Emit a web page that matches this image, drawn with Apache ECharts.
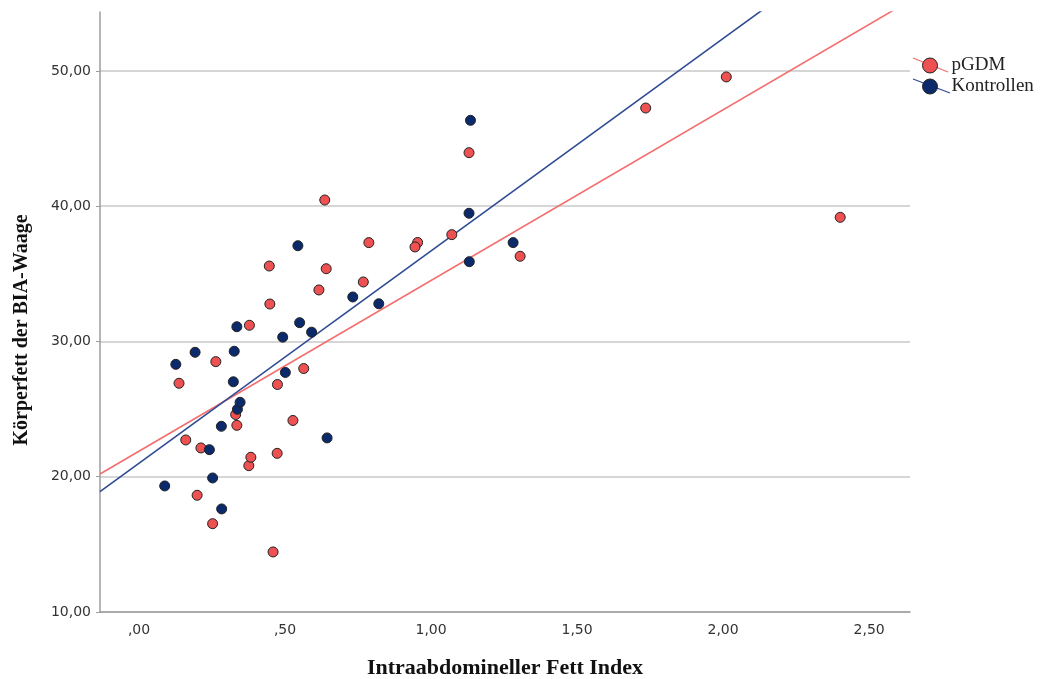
<!DOCTYPE html>
<html>
<head>
<meta charset="utf-8">
<script src="https://cdn.jsdelivr.net/npm/echarts@6/dist/echarts.min.js"></script>
<style>
  html, body { margin: 0; padding: 0; background: #ffffff; }
  #chart { width: 1040px; height: 679px; }
</style>
</head>
<body>
<div id="chart"></div>
<script>
// Intraabdominal fat index (x) vs. body fat from BIA scale (y), two groups
const pgdmX = [0.137, 0.160, 0.212, 0.199, 0.252, 0.263, 0.331, 0.335, 0.376, 0.383,
               0.378, 0.446, 0.448, 0.459, 0.474, 0.473, 0.527, 0.564, 0.616, 0.636,
               0.641, 0.768, 0.787, 0.954, 0.945, 1.071, 1.130, 1.305, 1.735, 2.011, 2.401];
const pgdmY = [26.91, 22.72, 22.13, 18.63, 16.53, 28.51, 24.60, 23.80, 20.82, 21.44,
               31.20, 35.58, 32.77, 14.44, 26.82, 21.73, 24.16, 28.00, 33.81, 40.46,
               35.38, 34.40, 37.31, 37.32, 36.99, 37.90, 43.96, 36.30, 47.26, 49.56, 39.18];

const kontrollenX = [0.088, 0.126, 0.192, 0.241, 0.252, 0.283, 0.282, 0.323, 0.326, 0.335,
                     0.337, 0.346, 0.492, 0.501, 0.544, 0.550, 0.591, 0.644, 0.732, 0.821,
                     1.130, 1.135, 1.131, 1.281];
const kontrollenY = [19.32, 28.31, 29.20, 22.00, 19.91, 17.62, 23.73, 27.02, 29.28, 31.09,
                     24.99, 25.50, 30.32, 27.71, 37.08, 31.39, 30.69, 22.87, 33.29, 32.79,
                     39.48, 46.35, 35.90, 37.31];

// Linear fit lines: [intercept, slope]
const pgdmFit = [21.89, 12.62];
const kontrollenFit = [21.00, 15.70];

// Axis ranges and tick labels
const xRange = [-0.1336, 2.64];
const yRange = [10, 54.36];
const xTickValues = [0, 0.5, 1.0, 1.5, 2.0, 2.5];
const xTickLabels = [',00', ',50', '1,00', '1,50', '2,00', '2,50'];
const yTickValues = [10, 20, 30, 40, 50];
const yTickLabels = ['10,00', '20,00', '30,00', '40,00', '50,00'];

const seriesNames = ['pGDM', 'Kontrollen'];
const xTitle = 'Intraabdomineller Fett Index';
const yTitle = 'Körperfett der BIA-Waage';

const pointColors = ['#EE5151', '#0B2A6B'];
const fitColors = ['#F46E6E', '#2F4C94'];

function pairs(xs, ys) { return xs.map((x, i) => [x, ys[i]]); }
function fitLine(fit) {
  return xRange.map(x => [x, fit[0] + fit[1] * x]);
}
function labelFor(values, labels) {
  return v => {
    const i = values.findIndex(t => Math.abs(t - v) < 1e-6);
    return i >= 0 ? labels[i] : '';
  };
}

const chart = echarts.init(document.getElementById('chart'), null, { renderer: 'canvas' });

const tickFont = { fontFamily: 'DejaVu Sans', fontSize: 14, color: '#333333' };
const titleFont = { fontFamily: 'Liberation Serif', fontWeight: 'bold', color: '#111111' };

chart.setOption({
  animation: false,
  backgroundColor: '#ffffff',
  grid: { left: 100, right: 130, top: 12, bottom: 67, containLabel: false, outerBoundsMode: 'none' },
  xAxis: {
    type: 'value',
    min: xRange[0],
    max: xRange[1],
    name: xTitle,
    nameLocation: 'middle',
    nameGap: 45,
    nameTextStyle: Object.assign({ fontSize: 22 }, titleFont),
    axisLine: { show: true, onZero: false, lineStyle: { color: '#9c9c9c', width: 1.5 } },
    axisTick: { show: false, customValues: xTickValues },
    axisLabel: Object.assign({
      customValues: xTickValues,
      margin: 11,
      formatter: labelFor(xTickValues, xTickLabels)
    }, tickFont),
    splitLine: { show: false }
  },
  yAxis: {
    type: 'value',
    min: yRange[0],
    max: yRange[1],
    name: yTitle,
    nameLocation: 'middle',
    nameGap: 68,
    nameRotate: 90,
    nameTextStyle: Object.assign({ fontSize: 20, padding: [0, 36, 0, 0] }, titleFont),
    axisLine: { show: true, onZero: false, lineStyle: { color: '#9c9c9c', width: 1.5 } },
    axisTick: { show: true, length: 4, customValues: yTickValues, lineStyle: { color: '#9c9c9c' } },
    axisLabel: Object.assign({
      customValues: yTickValues,
      margin: 9,
      formatter: labelFor(yTickValues, yTickLabels)
    }, tickFont),
    splitLine: { show: true, lineStyle: { color: '#c8c8c8', width: 1.5 } }
  },
  legend: {
    orient: 'vertical',
    left: 922,
    top: 56,
    padding: 0,
    z: 10,
    icon: 'circle',
    itemWidth: 15,
    itemHeight: 15,
    itemGap: 2,
    data: seriesNames,
    itemStyle: { borderColor: '#222222', borderWidth: 1 },
    textStyle: { fontFamily: 'Liberation Serif', fontSize: 19, lineHeight: 15, color: '#222222', padding: [0, 0, 0, 9] }
  },
  graphic: [
    { type: 'line', z: 1, shape: { x1: 913, y1: 58, x2: 948, y2: 72 },
      style: { stroke: fitColors[0], lineWidth: 1.3 } },
    { type: 'line', z: 1, shape: { x1: 913, y1: 79, x2: 950, y2: 93 },
      style: { stroke: fitColors[1], lineWidth: 1.3 } }
  ],
  series: [
    {
      name: 'pGDM Anpassung',
      type: 'line',
      data: fitLine(pgdmFit),
      showSymbol: false,
      clip: true,
      z: 2,
      silent: true,
      lineStyle: { color: fitColors[0], width: 1.6 }
    },
    {
      name: 'Kontrollen Anpassung',
      type: 'line',
      data: fitLine(kontrollenFit),
      showSymbol: false,
      clip: true,
      z: 2,
      silent: true,
      lineStyle: { color: fitColors[1], width: 1.6 }
    },
    {
      name: seriesNames[0],
      type: 'scatter',
      data: pairs(pgdmX, pgdmY),
      symbol: 'circle',
      symbolSize: 10,
      z: 3,
      itemStyle: { color: pointColors[0], borderColor: '#222222', borderWidth: 1, opacity: 1 }
    },
    {
      name: seriesNames[1],
      type: 'scatter',
      data: pairs(kontrollenX, kontrollenY),
      symbol: 'circle',
      symbolSize: 10,
      z: 3,
      itemStyle: { color: pointColors[1], borderColor: '#222222', borderWidth: 1, opacity: 1 }
    }
  ]
});
</script>
</body>
</html>
